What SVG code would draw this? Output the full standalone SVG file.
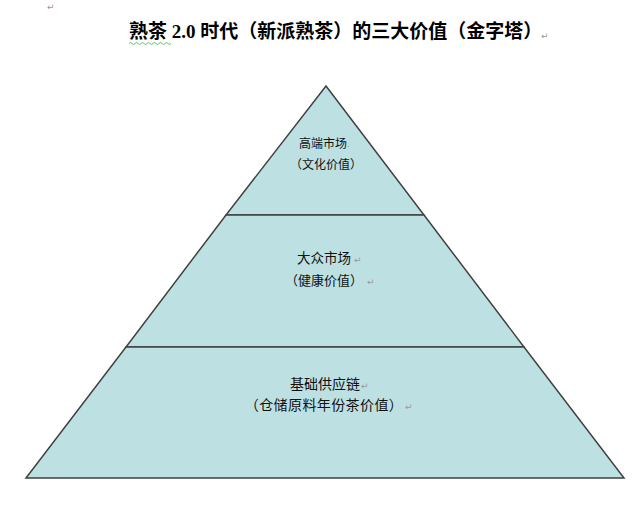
<svg xmlns="http://www.w3.org/2000/svg" width="640" height="509" viewBox="0 0 640 509">
<style>
.tier{fill:#bde0e3;stroke:#404040;stroke-width:1.5;stroke-linejoin:miter}
.title{font-family:"Liberation Serif","Noto Sans CJK SC",serif;font-weight:bold;font-size:19px;fill:#000}
.lbl{font-family:"Noto Sans CJK SC","Noto Sans",sans-serif;fill:#111;text-anchor:middle}
.mark{font-family:"DejaVu Sans",sans-serif;font-size:9px;fill:#999}
</style>
<rect width="640" height="509" fill="#fff"/>
<text class="mark" x="47" y="10">↵</text>
<g id="title">
<text class="title" x="129" y="38">熟茶 2.0 时代（新派熟茶）的三大价值（金字塔）</text>
<path d="M129 43.5 q1.5 -2 3 0 t3 0 t3 0 t3 0 t3 0 t3 0 t3 0 t3 0 t3 0 t3 0 t3 0 t3 0 t3 0 t3 0" fill="none" stroke="#3cb043" stroke-width="0.8"/>
<text class="mark" x="541" y="39">↵</text>
</g>
<g id="tier-top">
<polygon class="tier" points="326,86 424,215 226,215"/>
<text class="lbl" x="323" y="148" font-size="12">高端市场</text>
<text class="mark" x="347" y="147" font-size="5">.</text>
<text class="lbl" x="326" y="169" font-size="12">（文化价值）</text>
</g>
<g id="tier-middle">
<polygon class="tier" points="226,215 424,215 524,347 126,347"/>
<text class="lbl" x="324" y="263" font-size="13.5">大众市场</text>
<text class="mark" x="354" y="263">↵</text>
<text class="lbl" x="324" y="285" font-size="13">（健康价值）</text>
<text class="mark" x="367" y="285">↵</text>
</g>
<g id="tier-bottom">
<polygon class="tier" points="126,347 524,347 624,478 26,478"/>
<text class="lbl" x="325" y="389" font-size="14">基础供应链</text>
<text class="mark" x="361" y="389">↵</text>
<text class="lbl" x="324" y="410" font-size="14" letter-spacing="0.4">（仓储原料年份茶价值）</text>
<text class="mark" x="405" y="410">↵</text>
</g>
</svg>
